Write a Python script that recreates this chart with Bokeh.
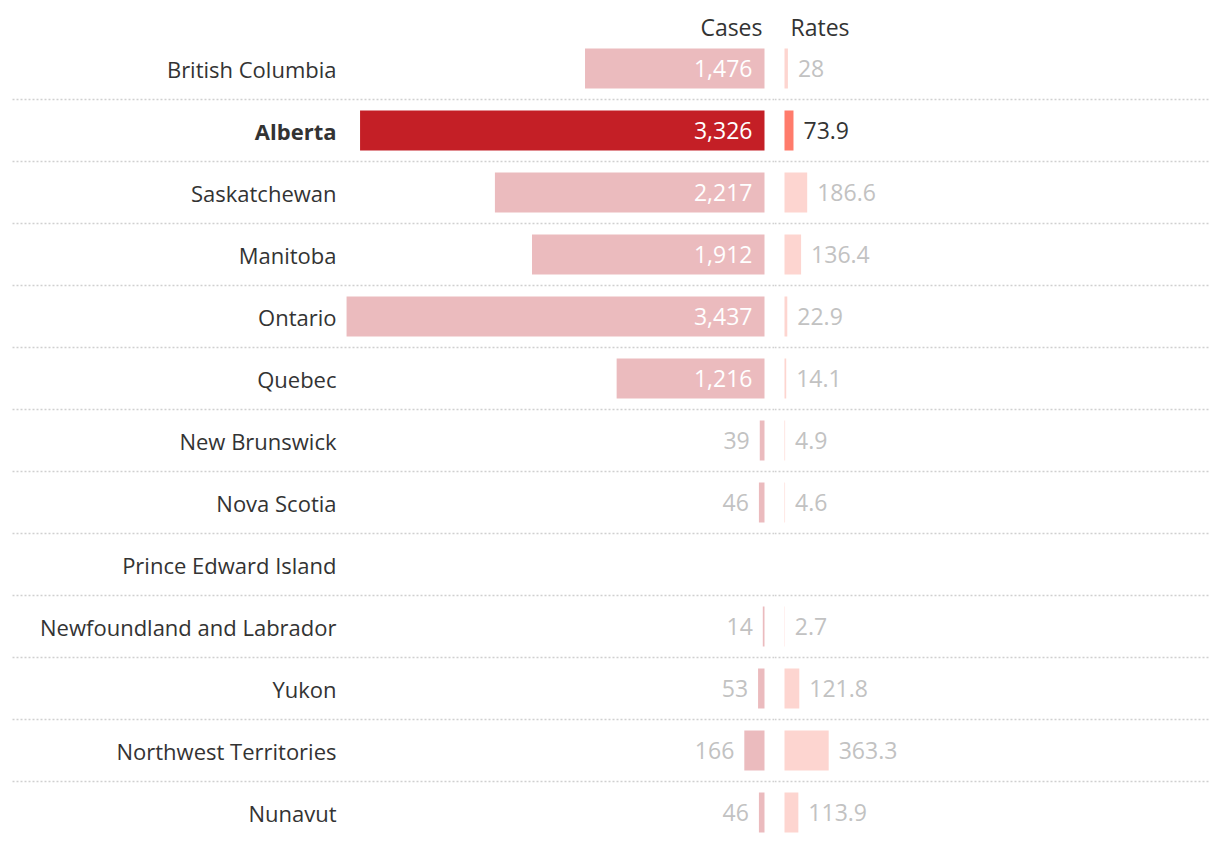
from bokeh.plotting import figure
from bokeh.models import ColumnDataSource, Range1d
from bokeh.layouts import row
from bokeh.embed import file_html
from bokeh.resources import INLINE
from bokeh.core.properties import value

# ---------------- data ----------------
provinces = ["British Columbia", "Alberta", "Saskatchewan", "Manitoba", "Ontario",
             "Quebec", "New Brunswick", "Nova Scotia", "Prince Edward Island",
             "Newfoundland and Labrador", "Yukon", "Northwest Territories", "Nunavut"]
cases = [1476, 3326, 2217, 1912, 3437, 1216, 39, 46, None, 14, 53, 166, 46]
rates = [28, 73.9, 186.6, 136.4, 22.9, 14.1, 4.9, 4.6, None, 2.7, 121.8, 363.3, 113.9]
highlight = "Alberta"

# ---------------- style / layout ----------------
FONT = "Open Sans"
FS_LAB = "22px"
FS_NUM = "23px"
K = 0.1216          # pixels per unit (shared scale)
H = 834
ROW_PX = 62
ROW0_PX = 68
WA, ZA = 774, 764   # left figure width, zero position (px)
WB, ZB = 438, 10    # right figure width, zero position (px)
LABEL_PX = 336
INSIDE_MIN = 600

C_CASE = "#EBBBBE"; C_CASE_HI = "#C41F26"
C_RATE = "#FDD5D0"; C_RATE_HI = "#FF7B6B"
C_GRAY = "#C2C2C2"; C_DARK = "#333333"; C_SEP = "#D0D0D0"

n = len(provinces)
yr = Range1d(start=(H - ROW0_PX) / ROW_PX, end=-ROW0_PX / ROW_PX)
header_y = (26 - ROW0_PX) / ROW_PX
bar_h = 40 / ROW_PX


def base(width, xr):
    p = figure(width=width, height=H, x_range=xr, y_range=yr,
               output_backend="svg", toolbar_location=None,
               x_axis_type=None, y_axis_type=None, min_border=0,
               outline_line_color=None, background_fill_color="white",
               border_fill_color="white")
    p.grid.visible = False
    return p


pa = base(WA, Range1d(-ZA / K, (WA - ZA) / K))
pb = base(WB, Range1d(-ZB / K, (WB - ZB) / K))

# separators
sep_y = [i + 0.5 for i in range(n - 1)]
pa.segment(x0=[(12 - ZA) / K] * len(sep_y), x1=[(WA - ZA) / K] * len(sep_y), y0=sep_y, y1=sep_y,
           line_color=C_SEP, line_width=1.5, line_dash="2 2")
pb.segment(x0=[-ZB / K] * len(sep_y), x1=[(WB - 4 - ZB) / K] * len(sep_y), y0=sep_y, y1=sep_y,
           line_color=C_SEP, line_width=1.5, line_dash="2 2")

# cases bars
ca = dict(y=[], left=[], color=[])
for i, (p_, c) in enumerate(zip(provinces, cases)):
    if c is None:
        continue
    ca["y"].append(i); ca["left"].append(-c)
    ca["color"].append(C_CASE_HI if p_ == highlight else C_CASE)
pa.hbar(y="y", left="left", right=0, height=bar_h, color="color", line_color=None,
        source=ColumnDataSource(ca))

# cases labels
cl = dict(x=[], y=[], t=[], off=[], color=[])
for i, c in enumerate(cases):
    if c is None:
        continue
    if c >= INSIDE_MIN:
        cl["x"].append(0); cl["off"].append(-12); cl["color"].append("white")
    else:
        cl["x"].append(-c); cl["off"].append(-10); cl["color"].append(C_GRAY)
    cl["y"].append(i); cl["t"].append(f"{c:,}")
pa.text(x="x", y="y", text="t", x_offset="off", text_color="color", text_align="right",
        text_baseline="middle", text_font=value(FONT), text_font_size=FS_NUM,
        source=ColumnDataSource(cl))

# province labels
lx = (LABEL_PX - ZA) / K
normal = [(p_, i) for i, p_ in enumerate(provinces) if p_ != highlight]
bold = [(p_, i) for i, p_ in enumerate(provinces) if p_ == highlight]
pa.text(x=[lx] * len(normal), y=[i for _, i in normal], text=[p_ for p_, _ in normal],
        text_align="right", text_baseline="middle", text_color=C_DARK,
        text_font=value(FONT), text_font_size=FS_LAB)
pa.text(x=[lx] * len(bold), y=[i for _, i in bold], text=[p_ for p_, _ in bold],
        text_align="right", text_baseline="middle", text_color=C_DARK,
        text_font=value(FONT), text_font_size=FS_LAB, text_font_style="bold")

# headers
pa.text(x=[0], y=[header_y], text=["Cases"], x_offset=-2, text_align="right",
        text_baseline="middle", text_color=C_DARK, text_font=value(FONT), text_font_size=FS_NUM)
pb.text(x=[0], y=[header_y], text=["Rates"], x_offset=6, text_align="left",
        text_baseline="middle", text_color=C_DARK, text_font=value(FONT), text_font_size=FS_NUM)

# rates bars + labels
rb = dict(y=[], right=[], color=[], t=[], tcolor=[])
for i, (p_, r) in enumerate(zip(provinces, rates)):
    if r is None:
        continue
    hi = p_ == highlight
    rb["y"].append(i); rb["right"].append(r)
    rb["color"].append(C_RATE_HI if hi else C_RATE)
    rb["t"].append(f"{r:g}")
    rb["tcolor"].append(C_DARK if hi else C_GRAY)
src_r = ColumnDataSource(rb)
pb.hbar(y="y", left=0, right="right", height=bar_h, color="color", line_color=None, source=src_r)
pb.text(x="right", y="y", text="t", x_offset=10, text_color="tcolor", text_align="left",
        text_baseline="middle", text_font=value(FONT), text_font_size=FS_NUM, source=src_r)

layout = row(pa, pb)
open("out.html", "w").write(file_html(layout, INLINE))
